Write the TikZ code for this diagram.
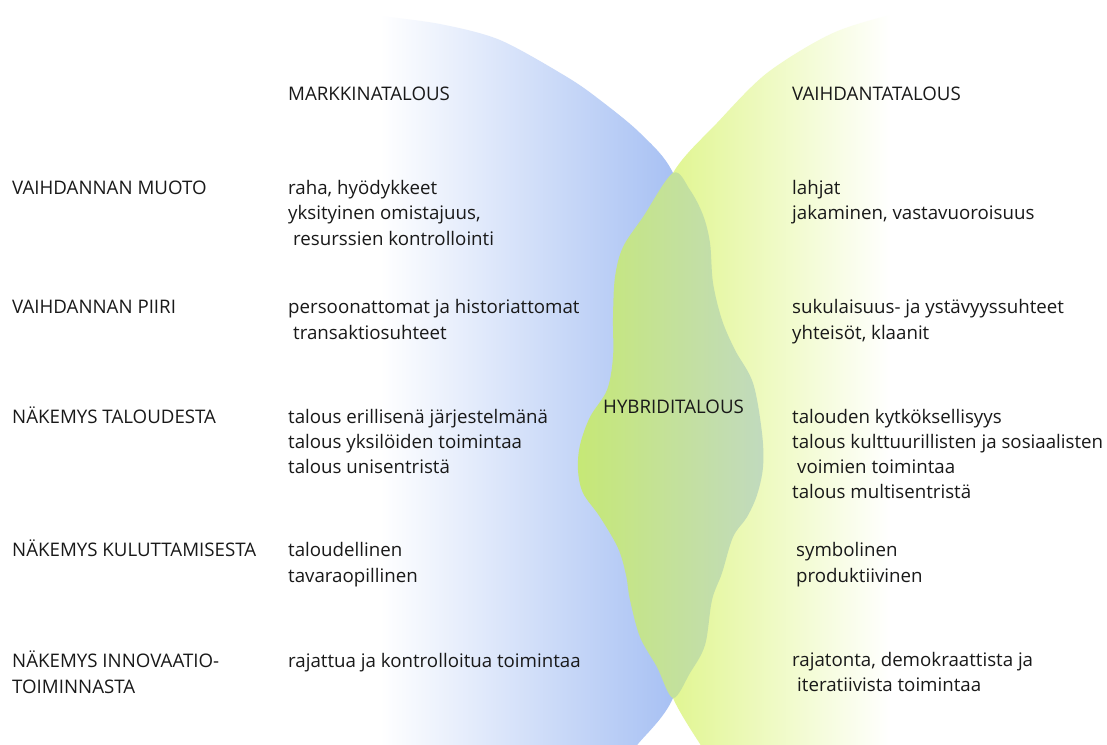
\documentclass[tikz,border=0pt]{standalone}
\usepackage{fontspec}
\setmainfont{Open Sans}
\definecolor{bluec}{RGB}{158,186,242}
\definecolor{yelc}{RGB}{226,246,150}
\definecolor{blobL}{RGB}{198,232,118}
\definecolor{blobR}{RGB}{193,218,190}
\definecolor{ink}{RGB}{25,25,25}
\tikzset{
  txt/.style={anchor=base west,inner sep=0pt,font=\fontsize{18.7}{22}\selectfont,text=ink},
}
\begin{document}
\begin{tikzpicture}[x=1pt,y=-1pt]
\useasboundingbox (0,0) rectangle (1107,744);
\fill[white] (0,0) rectangle (1107,744);
% blue region (market economy)
\begin{scope}
\clip plot[smooth] coordinates {(380,16) (440,24) (500,40) (567,77) (600,100) (640,133) (673,173) (700,260) (715,437) (700,600) (673,698) (638,744) (625,760)} -- (300,760) -- (300,16) -- cycle;
\shade[left color=white,right color=bluec] (380,0) rectangle (705,744);
\fill[bluec] (705,0) rectangle (800,744);
\end{scope}
% yellow region (exchange economy)
\begin{scope}
\clip plot[smooth] coordinates {(712,760) (700,744) (673,698) (655,640) (630,540) (618,437) (628,330) (645,250) (673,173) (717,123) (767,73) (833,33) (900,13) (960,6) (1020,4)} -- (1120,4) -- (1120,760) -- cycle;
\shade[left color=yelc,right color=white] (680,0) rectangle (890,744);
\fill[yelc] (560,0) rectangle (680,744);
\end{scope}
% hybrid blob
\shade[left color=blobL,right color=blobR] plot[smooth cycle,tension=0.55] coordinates {
 (673,173) (690,190) (703,215) (710,243) (713,283) (722,320) (735,350) (753,383) (762,433) (763,467) (757,495) (747,517) (733,537) (722,573) (712,600) (705,645) (690,673) (673,698)
 (657,667) (640,637) (630,600) (626,575) (618,548) (600,517) (583,493) (578,470) (580,445) (590,417) (607,390) (613,357) (613,317) (615,277) (623,247) (643,217)};
\node[txt] (hyb) at (603,413) {HYBRIDITALOUS};
% headers
\node[txt] (hm) at (288,100) {MARKKINATALOUS};
\node[txt] (hv) at (792,100) {VAIHDANTATALOUS};
% row labels
\node[txt] (r1) at (12,194) {VAIHDANNAN MUOTO};
\node[txt] (r2) at (12,313) {VAIHDANNAN PIIRI};
\node[txt] (r3) at (12,423) {NÄKEMYS TALOUDESTA};
\node[txt] (r4) at (12,556) {NÄKEMYS KULUTTAMISESTA};
\node[txt] (r5a) at (12,667) {NÄKEMYS INNOVAATIO-};
\node[txt] (r5b) at (12,693) {TOIMINNASTA};
% market column
\node[txt] (m1a) at (288,194) {raha, hyödykkeet};
\node[txt] (m1b) at (288,219.5) {yksityinen omistajuus,};
\node[txt] (m1c) at (293,245) {resurssien kontrollointi};
\node[txt] (m2a) at (288,313) {persoonattomat ja historiattomat};
\node[txt] (m2b) at (293,339) {transaktiosuhteet};
\node[txt] (m3a) at (288,423) {talous erillisenä järjestelmänä};
\node[txt] (m3b) at (288,448) {talous yksilöiden toimintaa};
\node[txt] (m3c) at (288,473) {talous unisentristä};
\node[txt] (m4a) at (288,556) {taloudellinen};
\node[txt] (m4b) at (288,582) {tavaraopillinen};
\node[txt] (m5a) at (288,667) {rajattua ja kontrolloitua toimintaa};
% exchange column
\node[txt] (v1a) at (792,194) {lahjat};
\node[txt] (v1b) at (792,219.5) {jakaminen, vastavuoroisuus};
\node[txt] (v2a) at (792,313) {sukulaisuus- ja ystävyyssuhteet};
\node[txt] (v2b) at (792,339) {yhteisöt, klaanit};
\node[txt] (v3a) at (792,423) {talouden kytköksellisyys};
\node[txt] (v3b) at (792,448) {talous kulttuurillisten ja sosiaalisten};
\node[txt] (v3c) at (797,473) {voimien toimintaa};
\node[txt] (v3d) at (792,498) {talous multisentristä};
\node[txt] (v4a) at (796,556) {symbolinen};
\node[txt] (v4b) at (796,582) {produktiivinen};
\node[txt] (v5a) at (792,666) {rajatonta, demokraattista ja};
\node[txt] (v5b) at (797,691) {iteratiivista toimintaa};
\end{tikzpicture}
\end{document}
